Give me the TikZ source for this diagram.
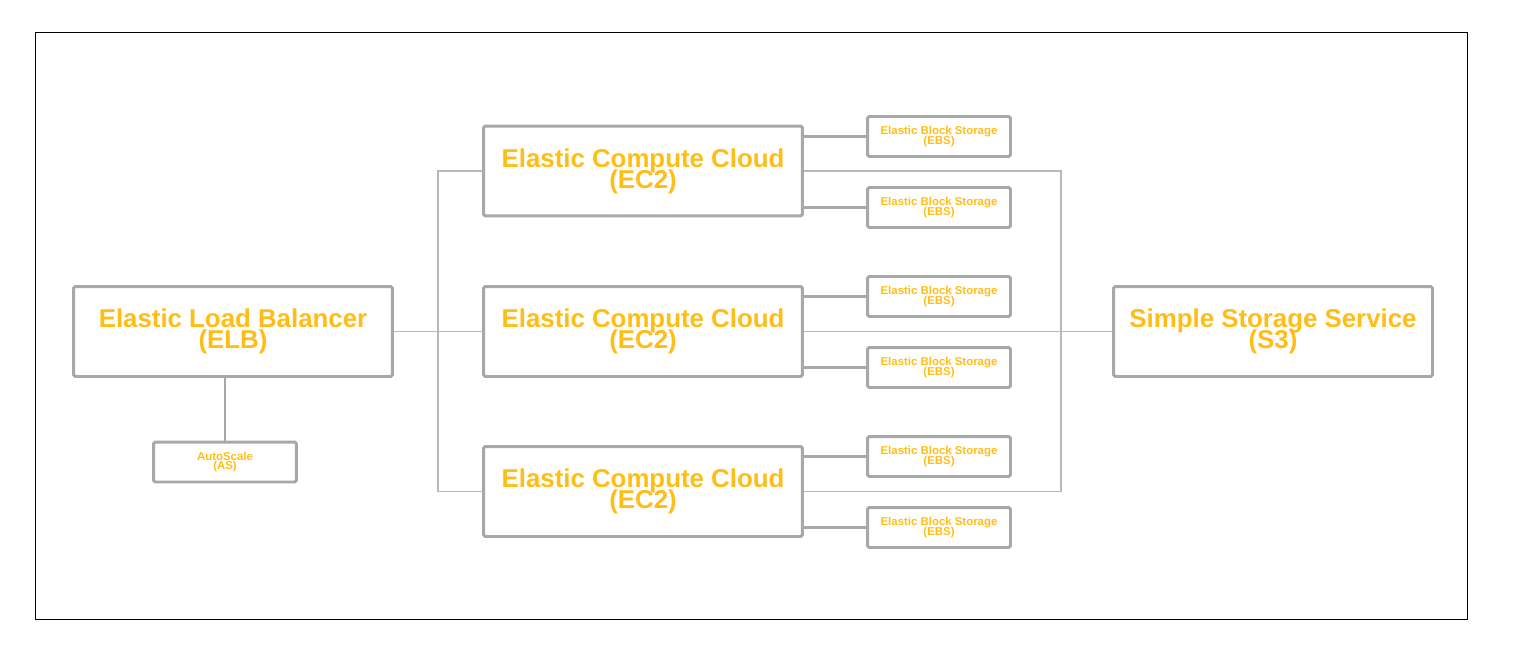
\documentclass[tikz,border=0pt]{standalone}
\usepackage{fontspec}
\setmainfont{Liberation Sans}
\definecolor{awsgold}{RGB}{255,189,22}
\definecolor{boxgray}{RGB}{168,168,168}
\definecolor{treegray}{RGB}{184,184,184}
\newcommand{\bigboxfont}{\bfseries\fontsize{14.7}{11.9}\selectfont\setlength{\lineskiplimit}{-20pt}}
\newcommand{\smallboxfont}{\bfseries\fontsize{6.5}{5.5}\selectfont\setlength{\lineskiplimit}{-20pt}}

\begin{document}
\begin{tikzpicture}[x=0.02cm, y=-0.02cm,
	big/.style={draw=boxgray, line width=1.7pt, rounded corners=1pt, align=center, inner sep=0pt,
		minimum width=6.38cm, minimum height=1.8cm, text=awsgold, font=\bigboxfont},
	small/.style={draw=boxgray, line width=1.7pt, rounded corners=1pt, align=center, inner sep=0pt,
		minimum width=2.86cm, minimum height=0.8cm, text=awsgold, font=\smallboxfont},
	link/.style={draw=boxgray, line width=1.7pt},
	tree/.style={draw=treegray, line width=1pt}]
	\useasboundingbox (0,0) rectangle (1523,655);
	\draw[line width=0.45pt] (35,32) rectangle (1467,619);

	\node[big]		(elb)	at (233,331.5)	{Elastic Load Balancer\\(ELB)};
	\node[small]	(as)	at (225,462)	{AutoScale\\(AS)};
	\node[big]		(ec2a)	at (643,171)	{Elastic Compute Cloud\\(EC2)};
	\node[big]		(ec2b)	at (643,331.5)	{Elastic Compute Cloud\\(EC2)};
	\node[big]		(ec2c)	at (643,491.5)	{Elastic Compute Cloud\\(EC2)};
	\node[big]		(s3)	at (1273,331.5)	{Simple Storage Service\\(S3)};

	\node[small]	(ebs1)	at (939,136.5)	{Elastic Block Storage\\(EBS)};
	\node[small]	(ebs2)	at (939,207.5)	{Elastic Block Storage\\(EBS)};
	\node[small]	(ebs3)	at (939,296.5)	{Elastic Block Storage\\(EBS)};
	\node[small]	(ebs4)	at (939,367.5)	{Elastic Block Storage\\(EBS)};
	\node[small]	(ebs5)	at (939,456.5)	{Elastic Block Storage\\(EBS)};
	\node[small]	(ebs6)	at (939,527.5)	{Elastic Block Storage\\(EBS)};

	\coordinate (lbsplit) at (438,331.5);
	\coordinate (s3bus)   at (1061,331.5);

	\path[link]
	(as.north)		edge	(as.north |- elb.south)
	(ebs1.west)		edge	(ebs1.west -| ec2a.east)
	(ebs2.west)		edge	(ebs2.west -| ec2a.east)
	(ebs3.west)		edge	(ebs3.west -| ec2b.east)
	(ebs4.west)		edge	(ebs4.west -| ec2b.east)
	(ebs5.west)		edge	(ebs5.west -| ec2c.east)
	(ebs6.west)		edge	(ebs6.west -| ec2c.east);

	\draw[tree] (elb.east) -- (ec2b.west);
	\draw[tree] (ec2a.west) -| (lbsplit) |- (ec2c.west);
	\draw[tree] (ec2b.east) -- (s3.west);
	\draw[tree] (ec2a.east) -| (s3bus) |- (ec2c.east);
\end{tikzpicture}
\end{document}
